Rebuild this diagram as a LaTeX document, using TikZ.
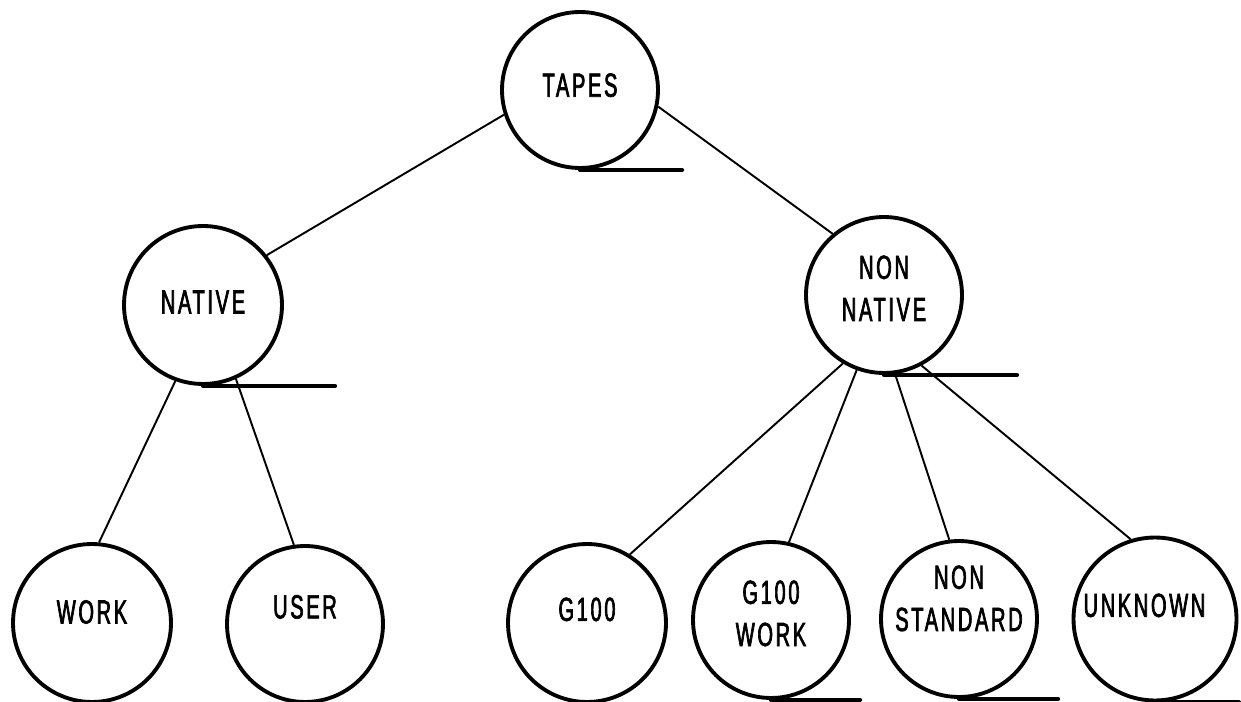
\documentclass[tikz,border=0pt]{standalone}
\usepackage{fontspec}
\setmainfont{Liberation Sans}[FakeStretch=0.6,LetterSpace=8,FakeBold=2]
\newcommand{\tapetext}[2]{\raisebox{#1}[\height][\depth]{\begin{tabular}{@{}c@{}}#2\end{tabular}}}
\begin{document}
\begin{tikzpicture}[x=0.02cm,y=-0.02cm,
		tape/.style={circle,draw,line width=2.2pt,minimum size=3.12cm,inner sep=0pt,font=\fontsize{19}{24}\selectfont},
		branch/.style={line width=1.1pt},
		tail/.style={line width=2.4pt,line cap=round}]
		\useasboundingbox (0,0) rectangle (1241,702);
		\node[tape] (tapes) at (580,90) {\tapetext{1pt}{TAPES}};
		\node[tape,minimum size=3.16cm] (native) at (203,305) {\tapetext{0pt}{NATIVE}};
		\node[tape] (nonnative) at (884,295) {\tapetext{2pt}{NON\\NATIVE}};
		\node[tape,minimum size=3.16cm] (work) at (92,623) {\tapetext{4.5pt}{WORK}};
		\node[tape] (user) at (305,624) {\tapetext{8pt}{USER}};
		\node[tape,minimum size=3.16cm] (gsto) at (587,623) {\tapetext{6pt}{G100}};
		\node[tape] (gstowork) at (771,620) {\tapetext{2pt}{G100\\WORK}};
		\node[tape] (nonstd) at (959,619) {\tapetext{10pt}{NON\\STANDARD}};
		\node[tape,minimum size=3.26cm] (unknown) at (1155,619) {\tapetext{6pt}{\kern-12pt UNKNOWN}};
		\draw[branch] (tapes.198) -- (native.38);
		\draw[branch] (tapes.348) -- (nonnative.130);
		\draw[branch] (native.250) -- (work.85);
		\draw[branch] (native.294) -- (user.98);
		\draw[branch] (nonnative.239) -- (gsto.58);
		\draw[branch] (nonnative.250) -- (gstowork.77);
		\draw[branch] (nonnative.278) -- (nonstd.97);
		\draw[branch] (nonnative.298) -- (unknown.107);
		\foreach \n/\l in {tapes/102,native/132,nonnative/133,work/100,user/107,gsto/101,gstowork/89,nonstd/99,unknown/84}
			\draw[tail] (\n.south) -- ++(\l,0);
	\end{tikzpicture}
\end{document}
